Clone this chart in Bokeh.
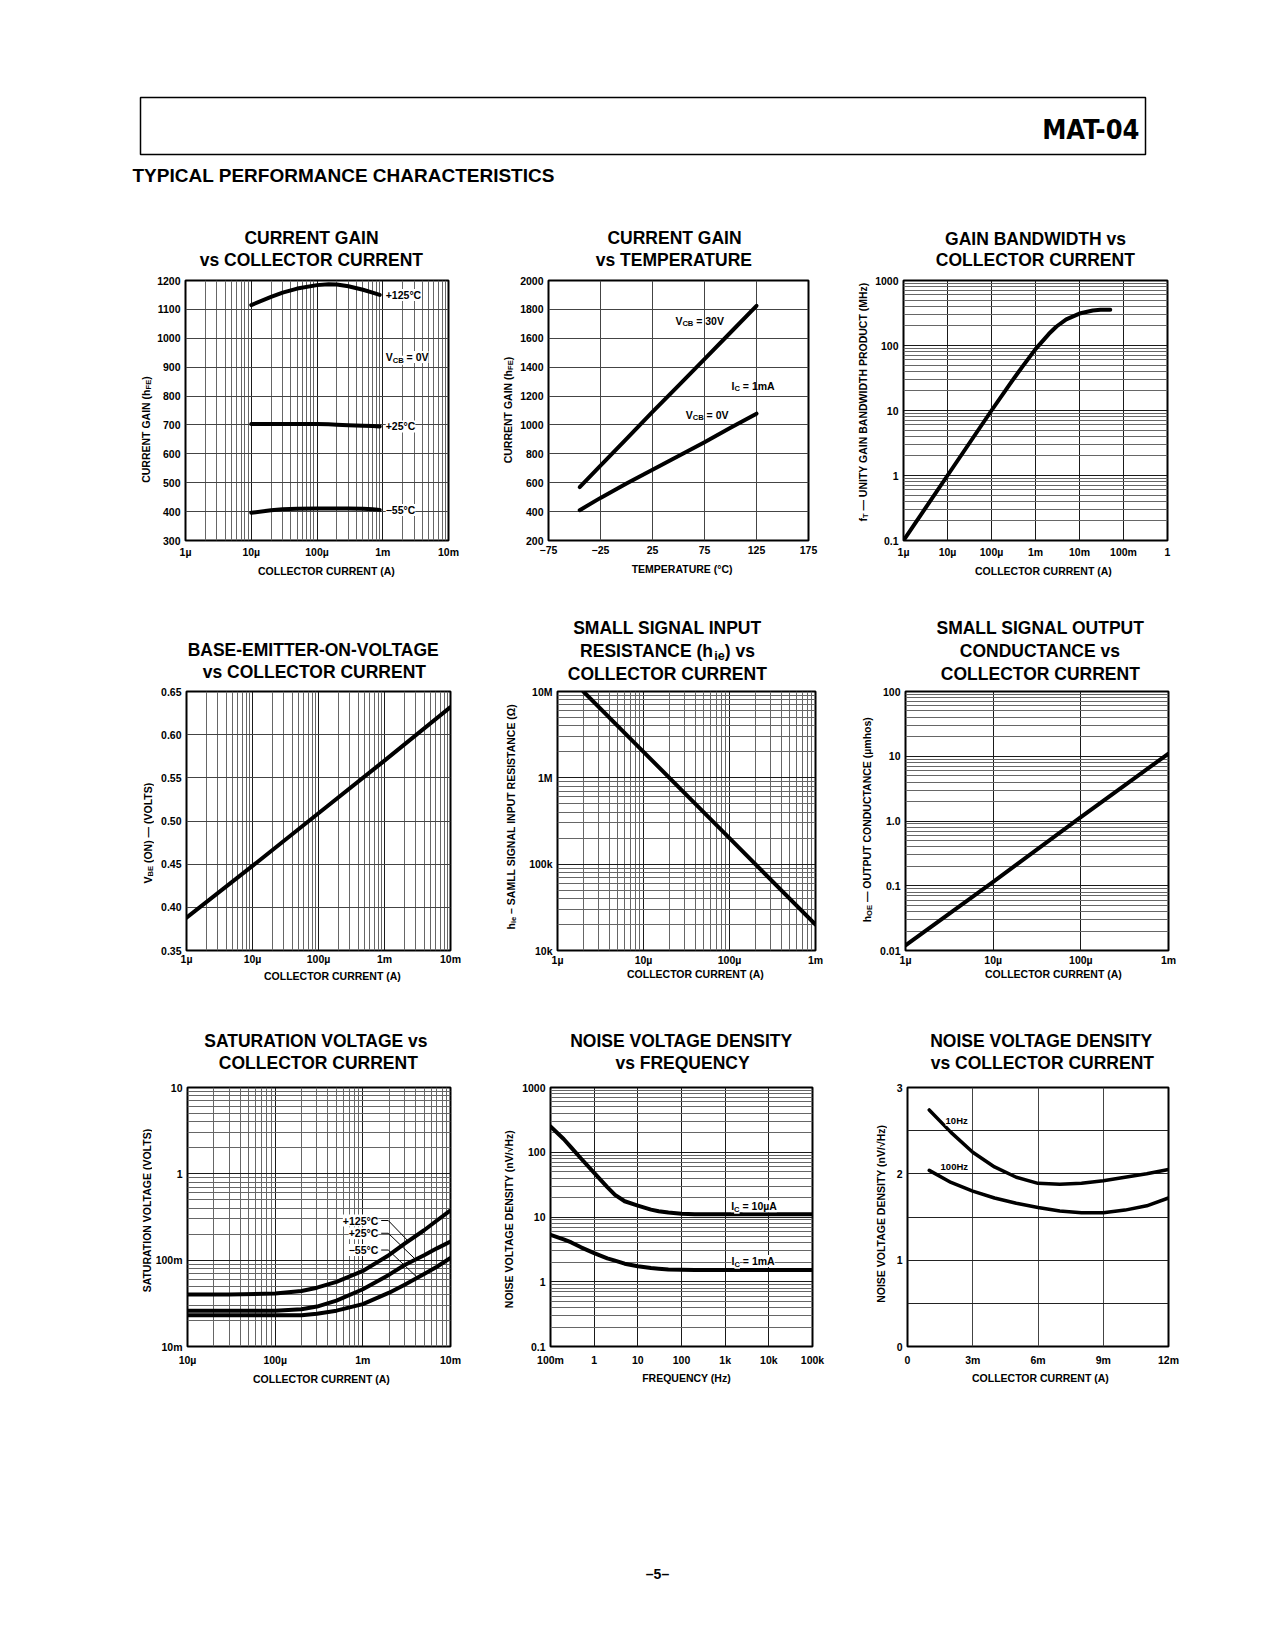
import numpy as np
from bokeh.plotting import figure
from bokeh.models import Range1d, FixedTicker, Label, CustomJSTickFormatter
from bokeh.layouts import column, row
from bokeh.embed import file_html
from bokeh.resources import INLINE

FONT = "Liberation Sans"
NARROW = "'Liberation Sans Narrow', 'Arial Narrow', 'DejaVu Sans Condensed', 'Liberation Sans', sans-serif"

# ------------------------------------------------------------------ data
# 1. current gain vs collector current
cg_ic = [10e-6, 20e-6, 30e-6, 50e-6, 100e-6, 150e-6, 200e-6, 300e-6, 500e-6, 700e-6, 900e-6]
cg_125 = [1115, 1143, 1158, 1172, 1184, 1187, 1186, 1180, 1168, 1158, 1150]
cg_25 = [703, 703, 703, 703, 703, 702, 701, 699, 697, 696, 695]
cg_m55 = [396, 405, 408, 410, 411, 411, 411, 411, 410, 408, 406]

# 2. current gain vs temperature
temp_c = [-45, -25, 0, 25, 50, 75, 100, 125]
gain_30v = [570, 718, 903, 1090, 1272, 1455, 1640, 1825]
gain_0v = [410, 495, 595, 690, 785, 880, 980, 1078]

# 3. gain bandwidth vs collector current
gbw_ic = [1e-6, 1e-5, 1e-4, 3e-4, 5e-4, 1e-3, 2e-3, 3e-3, 5e-3, 1e-2, 2e-2, 3e-2, 5e-2]
gbw_ft = [0.1, 1.0, 10, 29, 47, 88, 150, 196, 252, 310, 345, 355, 355]

# 4. base-emitter on voltage vs collector current
vbe_ic = [1e-6, 1e-5, 1e-4, 1e-3, 1e-2]
vbe_v = [0.388, 0.448, 0.509, 0.570, 0.632]

# 5. small signal input resistance
hie_ic = [2e-6, 1e-5, 1e-4, 1e-3]
hie_r = [1.0e7, 2.0e6, 2.0e5, 2.0e4]

# 6. small signal output conductance
hoe_ic = [1e-6, 1e-5, 1e-4, 1e-3]
hoe_g = [0.012, 0.115, 1.15, 11.0]

# 7. saturation voltage vs collector current
vs_ic = [10e-6, 30e-6, 100e-6, 200e-6, 300e-6, 500e-6, 1e-3, 2e-3, 3e-3, 5e-3, 7e-3, 10e-3]
vs_125 = [0.040, 0.040, 0.041, 0.044, 0.048, 0.056, 0.075, 0.115, 0.155, 0.222, 0.288, 0.377]
vs_25 = [0.026, 0.026, 0.026, 0.027, 0.029, 0.034, 0.046, 0.068, 0.088, 0.114, 0.137, 0.164]
vs_m55 = [0.023, 0.023, 0.023, 0.023, 0.024, 0.026, 0.031, 0.042, 0.052, 0.069, 0.084, 0.106]

# 8. noise voltage density vs frequency
nf_hz = [0.1, 0.2, 0.3, 0.5, 1, 2, 3, 5, 10, 20, 30, 50, 100, 200, 1000, 10000, 100000]
nf_10u = [250, 160, 118, 80, 48, 29, 22, 17.5, 15.0, 13.0, 12.3, 11.7, 11.2, 11.0, 11.0, 11.0, 11.0]
nf_1m = [5.3, 4.5, 4.05, 3.4, 2.77, 2.3, 2.12, 1.9, 1.74, 1.63, 1.59, 1.55, 1.53, 1.52, 1.52, 1.52, 1.52]

# 9. noise voltage density vs collector current
nc_ic = [1.0e-3, 2e-3, 3e-3, 4e-3, 5e-3, 6e-3, 7e-3, 8e-3, 9e-3, 10e-3, 11e-3, 12e-3]
nc_10hz = [2.74, 2.48, 2.25, 2.08, 1.96, 1.89, 1.88, 1.89, 1.92, 1.96, 2.00, 2.05]
nc_100hz = [2.04, 1.90, 1.80, 1.72, 1.66, 1.61, 1.57, 1.55, 1.55, 1.58, 1.63, 1.72]

# tick values / labels
t_1u_10m = [1e-6, 1e-5, 1e-4, 1e-3, 1e-2]
l_1u_10m = ["1µ", "10µ", "100µ", "1m", "10m"]
t_1u_1 = [1e-6, 1e-5, 1e-4, 1e-3, 1e-2, 1e-1, 1.0]
l_1u_1 = ["1µ", "10µ", "100µ", "1m", "10m", "100m", "1"]
t_1u_1m = [1e-6, 1e-5, 1e-4, 1e-3]
l_1u_1m = ["1µ", "10µ", "100µ", "1m"]
t_10u_10m = [1e-5, 1e-4, 1e-3, 1e-2]
l_10u_10m = ["10µ", "100µ", "1m", "10m"]
t_temp = [-75, -25, 25, 75, 125, 175]
l_temp = ["−75", "−25", "25", "75", "125", "175"]
t_freq = [0.1, 1, 10, 100, 1000, 10000, 100000]
l_freq = ["100m", "1", "10", "100", "1k", "10k", "100k"]
t_ic12 = [0, 3e-3, 6e-3, 9e-3, 12e-3]
l_ic12 = ["0", "3m", "6m", "9m", "12m"]
t_gain1 = list(range(300, 1201, 100))
l_gain1 = [str(v) for v in t_gain1]
t_gain2 = list(range(200, 2001, 200))
l_gain2 = [str(v) for v in t_gain2]
t_ft = [0.1, 1, 10, 100, 1000]
l_ft = ["0.1", "1", "10", "100", "1000"]
t_vbe = [0.35, 0.40, 0.45, 0.50, 0.55, 0.60, 0.65]
l_vbe = ["0.35", "0.40", "0.45", "0.50", "0.55", "0.60", "0.65"]
t_hie = [1e4, 1e5, 1e6, 1e7]
l_hie = ["10k", "100k", "1M", "10M"]
t_hoe = [0.01, 0.1, 1, 10, 100]
l_hoe = ["0.01", "0.1", "1.0", "10", "100"]
t_vs = [0.01, 0.1, 1, 10]
l_vs = ["10m", "100m", "1", "10"]
t_nv = [0.1, 1, 10, 100, 1000]
l_nv = ["0.1", "1", "10", "100", "1000"]
t_nc = [0, 1, 2, 3]
l_nc = ["0", "1", "2", "3"]

# ------------------------------------------------------------------ text helpers
AW = {' ': 278, '(': 333, ')': 333, '+': 584, ',': 278, '-': 333, '.': 278, '/': 278, '=': 584,
      '°': 400, 'µ': 611, 'Ω': 768, '√': 549, '—': 1000, '–': 556, '−': 584}
for ch in "0123456789":
    AW[ch] = 556
AW.update({'A': 722, 'B': 722, 'C': 722, 'D': 722, 'E': 667, 'F': 611, 'G': 778, 'H': 722, 'I': 278,
           'J': 556, 'K': 722, 'L': 611, 'M': 833, 'N': 722, 'O': 778, 'P': 667, 'Q': 778, 'R': 722,
           'S': 667, 'T': 611, 'U': 722, 'V': 667, 'W': 944, 'X': 667, 'Y': 667, 'Z': 611,
           'a': 556, 'b': 611, 'c': 556, 'd': 611, 'e': 556, 'f': 333, 'g': 611, 'h': 611, 'i': 278,
           'j': 278, 'k': 556, 'l': 278, 'm': 889, 'n': 611, 'o': 611, 'p': 611, 'q': 611, 'r': 389,
           's': 556, 't': 333, 'u': 611, 'v': 556, 'w': 778, 'x': 556, 'y': 556, 'z': 500})
SUBS = 0.72
TICK = "10.5px"


def text_w(s, fs):
    return sum(AW.get(ch, 600) for ch in s) * fs / 1000.0


def place(p, segs, x, y, dx, dy, fs, align="center", angle=0.0, bold=True, bg=None, font=FONT):
    """Lay out a run of text pieces (normal / subscript) centred vertically on (x, y)."""
    if isinstance(segs, str):
        segs = [(segs, False)]
    ws = [text_w(t, fs * (SUBS if s else 1.0)) for t, s in segs]
    W = sum(ws)
    cum = {"left": 0.0, "center": -W / 2.0, "right": -W}[align]
    for (t, s), w in zip(segs, ws):
        f = fs * (SUBS if s else 1.0)
        drop = 0.30 * fs if s else 0.0
        lead = len(t) - len(t.lstrip(" "))
        shift = text_w(" " * lead, f)
        txt = t.strip(" ")
        if angle == 0:
            xo, yo = dx + cum + shift, dy - drop
        else:
            xo, yo = dx + drop, dy + cum + shift
        p.add_layout(Label(x=x, y=y, x_offset=xo, y_offset=yo, text=txt, text_align="left",
                           text_baseline="middle", angle=angle, text_font=font,
                           text_font_size=f"{f:.1f}px", text_font_style="bold" if bold else "normal",
                           text_color="black", background_fill_color=bg))
        cum += w


def sub(*parts):
    return [(t, i % 2 == 1) for i, t in enumerate(parts)]


def minor_log(lo, hi):
    return [k * 10.0 ** e for e in range(lo, hi) for k in range(2, 10)]


# ------------------------------------------------------------------ page strips (page pixel coords)
PAGE_W = 1277
STRIPS = []


def strip(x0, x1, y0, y1):
    f = figure(width=x1 - x0, height=y1 - y0, x_range=Range1d(x0, x1), y_range=Range1d(y1, y0),
               x_axis_location=None, y_axis_location=None, min_border=0,
               output_backend="svg", toolbar_location=None, title=None)
    f.outline_line_color = None
    f.grid.visible = False
    f.background_fill_color = "white"
    f.border_fill_color = "white"
    STRIPS.append((x0, x1, y0, y1, f))
    return f


def page_text(segs, X, Y, fs, align="center", angle=0.0, bold=True, font=FONT):
    for x0, x1, y0, y1, f in STRIPS:
        if x0 <= X < x1 and y0 <= Y < y1:
            place(f, segs, X, Y, 0, 0, fs, align, angle, bold, None, font)
            return f
    raise ValueError((X, Y))


FMT = """
for (let i = 0; i < tk.length; i++) {
  const t = tk[i];
  if (tick === t || Math.abs(tick - t) <= 1e-9 * Math.abs(t)) return lb[i];
}
return "";
"""

MAJ = "#1a1a1a"
MIN = "#666666"


class Chart:
    def __init__(self, fig_box, frame, xr, yr, xlog, ylog, xt, xl, yt, yl,
                 xminor=(), yminor=(), xstand=5, xmaj=MAJ, xmin=MIN, ymaj=MAJ, ymin=MIN):
        fx0, fx1, fy0, fy1 = fig_box
        L, T, R, B = frame
        self.frame, self.xr, self.yr = frame, xr, yr
        p = figure(width=fx1 - fx0, height=fy1 - fy0, x_range=Range1d(*xr), y_range=Range1d(*yr),
                   x_axis_type="log" if xlog else "linear", y_axis_type="log" if ylog else "linear",
                   min_border_left=L - fx0, min_border_right=fx1 - R,
                   min_border_top=T - fy0, min_border_bottom=fy1 - B,
                   output_backend="svg", toolbar_location=None, title=None)
        p.outline_line_color = "black"
        p.outline_line_width = 2
        p.outline_line_alpha = 1.0
        p.background_fill_color = "white"
        p.border_fill_color = "white"
        xa, ya = p.xaxis[0], p.yaxis[0]
        xa.ticker = FixedTicker(ticks=xt, minor_ticks=list(xminor))
        ya.ticker = FixedTicker(ticks=yt, minor_ticks=list(yminor))
        xa.formatter = CustomJSTickFormatter(args=dict(tk=xt, lb=xl), code=FMT)
        ya.formatter = CustomJSTickFormatter(args=dict(tk=yt, lb=yl), code=FMT)
        for a in (xa, ya):
            a.axis_line_color = None
            a.major_tick_line_color = None
            a.minor_tick_line_color = None
            a.major_tick_out = 0
            a.major_tick_in = 0
            a.minor_tick_out = 0
            a.minor_tick_in = 0
            a.major_label_text_font = FONT
            a.major_label_text_font_style = "bold"
            a.major_label_text_font_size = TICK
            a.major_label_text_color = "black"
        xa.major_label_standoff = xstand
        ya.major_label_standoff = 5
        p.xgrid.grid_line_color = xmaj
        p.xgrid.minor_grid_line_color = xmin
        p.ygrid.grid_line_color = ymaj
        p.ygrid.minor_grid_line_color = ymin
        for g in (p.xgrid[0], p.ygrid[0]):
            g.grid_line_width = 1
            g.minor_grid_line_width = 1
            g.grid_line_alpha = 1.0
            g.minor_grid_line_alpha = 1.0
        self.p = p

    def curve(self, x, y, w=4):
        self.p.line(x, y, line_width=w, line_color="black", line_cap="round", line_join="round")


def titles(lines, X, Ys):
    for segs, Y in zip(lines, Ys):
        page_text(segs, X, Y, 17.5)


def xlabel(segs, X, Y):
    page_text(segs, X, Y, 10.5)


def ylabel(segs, X, Y):
    page_text(segs, X, Y, 10.5, angle=np.pi / 2)


LBL = 10.5

# vertical bands
S0 = (0, 269)
M1 = (269, 562)
S1 = (562, 682)
M2 = (682, 968)
S2 = (968, 1075)
M3 = (1075, 1370)
S3 = (1370, 1640)

s0 = strip(0, PAGE_W, *S0)
s1 = strip(0, PAGE_W, *S1)
s2 = strip(0, PAGE_W, *S2)
s3 = strip(0, PAGE_W, *S3)

# chart figure horizontal spans per row
R1X = [(153, 464), (516, 824), (871, 1183)]
R2X = [(154, 466), (523, 831), (875, 1184)]
R3X = [(152, 466), (516, 828), (887, 1184)]


def row_strips(xs, band):
    edges = [0] + [v for pair in xs for v in pair] + [PAGE_W]
    return [strip(edges[2 * i], edges[2 * i + 1], *band) for i in range(4)]


r1s = row_strips(R1X, M1)
r2s = row_strips(R2X, M2)
r3s = row_strips(R3X, M3)

# ------------------------------------------------------------------ chart 1
c1 = Chart(R1X[0] + M1, (185, 280, 448, 542), (1e-6, 1e-2), (300, 1200), True, False,
           t_1u_10m, l_1u_10m, t_gain1, l_gain1, xminor=minor_log(-6, -2), xstand=5, ymaj="#444")
c1.curve(cg_ic, cg_125)
c1.curve(cg_ic, cg_25)
c1.curve(cg_ic, cg_m55)
for val, txt in ((cg_125[-1], "+125°C"), (cg_25[-1], "+25°C"), (cg_m55[-1], "−55°C")):
    place(c1.p, txt, cg_ic[-1], val, 6, 0, LBL, "left", bg="white")
place(c1.p, sub("V", "CB", " = 0V"), cg_ic[-1], 935, 6, 0, LBL, "left", bg="white")
titles(["CURRENT GAIN", "vs COLLECTOR CURRENT"], 311, [237, 259])
xlabel("COLLECTOR CURRENT (A)", 326, 570)
ylabel(sub("CURRENT GAIN (h", "FE", ")"), 145, 437)

# ------------------------------------------------------------------ chart 2
c2 = Chart(R1X[1] + M1, (548, 280, 808, 540), (-75, 175), (200, 2000), False, False,
           t_temp, l_temp, t_gain2, l_gain2, xstand=5, xmaj="#444", ymaj="#444")
c2.curve(temp_c, gain_30v)
c2.curve(temp_c, gain_0v)
place(c2.p, sub("V", "CB", " = 30V"), 47, 1723, 0, 0, LBL, "left")
place(c2.p, sub("I", "C", " = 1mA"), 101, 1273, 0, 0, LBL, "left")
place(c2.p, sub("V", "CB", " = 0V"), 57, 1072, 0, 0, LBL, "left")
titles(["CURRENT GAIN", "vs TEMPERATURE"], 674, [237, 259])
xlabel("TEMPERATURE (°C)", 682, 568)
ylabel(sub("CURRENT GAIN (h", "FE", ")"), 507, 415)

# ------------------------------------------------------------------ chart 3
c3 = Chart(R1X[2] + M1, (903, 277, 1167, 542), (1e-6, 1.0), (0.1, 1000), True, True,
           t_1u_1, l_1u_1, t_ft, l_ft, yminor=minor_log(-1, 3), xstand=5)
c3.curve(gbw_ic, gbw_ft)
titles(["GAIN BANDWIDTH vs", "COLLECTOR CURRENT"], 1035, [238, 259])
xlabel("COLLECTOR CURRENT (A)", 1043, 570)
ylabel(sub("f", "T", " — UNITY GAIN BANDWIDTH PRODUCT (MHz)"), 862, 406)

# ------------------------------------------------------------------ chart 4
c4 = Chart(R2X[0] + M2, (186, 691, 450, 953), (1e-6, 1e-2), (0.35, 0.65), True, False,
           t_1u_10m, l_1u_10m, t_vbe, l_vbe, xminor=minor_log(-6, -2), xstand=2, ymaj="#444")
c4.curve(vbe_ic, vbe_v)
titles(["BASE-EMITTER-ON-VOLTAGE", "vs COLLECTOR CURRENT"], 314, [649, 671])
xlabel("COLLECTOR CURRENT (A)", 332, 975)
ylabel(sub("V", "BE", " (ON) — (VOLTS)"), 147, 838)

# ------------------------------------------------------------------ chart 5
c5 = Chart(R2X[1] + M2, (557, 690, 815, 950), (1e-6, 1e-3), (1e4, 1e7), True, True,
           t_1u_1m, l_1u_1m, t_hie, l_hie, xminor=minor_log(-6, -3), yminor=minor_log(4, 7), xstand=3)
c5.curve(hie_ic, hie_r)
titles(["SMALL SIGNAL INPUT", sub("RESISTANCE (h", "ie", ") vs"), "COLLECTOR CURRENT"],
       667, [627, 650, 673])
xlabel("COLLECTOR CURRENT (A)", 695, 973)
ylabel(sub("h", "ie", " – SAMLL SIGNAL INPUT RESISTANCE (Ω)"), 510, 820)

# ------------------------------------------------------------------ chart 6
c6 = Chart(R2X[2] + M2, (905, 690, 1168, 952), (1e-6, 1e-3), (0.01, 100), True, True,
           t_1u_1m, l_1u_1m, t_hoe, l_hoe, yminor=minor_log(-2, 2), xstand=3)
c6.curve(hoe_ic, hoe_g)
titles(["SMALL SIGNAL OUTPUT", "CONDUCTANCE vs", "COLLECTOR CURRENT"], 1040, [627, 650, 673])
xlabel("COLLECTOR CURRENT (A)", 1053, 973)
ylabel(sub("h", "OE", " — OUTPUT CONDUCTANCE (µmhos)"), 866, 823)

# ------------------------------------------------------------------ chart 7
c7 = Chart(R3X[0] + M3, (187, 1085, 450, 1348), (1e-5, 1e-2), (0.01, 10), True, True,
           t_10u_10m, l_10u_10m, t_vs, l_vs, xminor=minor_log(-5, -2), yminor=minor_log(-2, 1), xstand=7)
c7.curve(vs_ic, vs_125)
c7.curve(vs_ic, vs_25)
c7.curve(vs_ic, vs_m55)
lx = np.log10(vs_ic)
for txt, ly, ser, xe in (("+125°C", 0.288, vs_125, 3.3e-3), ("+25°C", 0.205, vs_25, 4.0e-3),
                         ("−55°C", 0.131, vs_m55, 4.2e-3)):
    place(c7.p, txt, 1.5e-3, ly, 0, 0, LBL, "right", bg="white")
    ye = 10 ** np.interp(np.log10(xe), lx, np.log10(ser))
    c7.p.line([1.62e-3, 1.95e-3, xe], [ly, ly, ye], line_width=1, line_color="black")
titles(["SATURATION VOLTAGE vs", "COLLECTOR CURRENT"], 318, [1040, 1062])
xlabel("COLLECTOR CURRENT (A)", 321, 1378)
ylabel("SATURATION VOLTAGE (VOLTS)", 146, 1213)

# ------------------------------------------------------------------ chart 8
c8 = Chart(R3X[1] + M3, (550, 1083, 812, 1347), (0.1, 1e5), (0.1, 1000), True, True,
           t_freq, l_freq, t_nv, l_nv, yminor=minor_log(-1, 3), xstand=7)
c8.curve(nf_hz, nf_10u)
c8.curve(nf_hz, nf_1m)
place(c8.p, sub("I", "C", " = 10µA"), 1374, 14.7, 0, 0, LBL, "left", bg="white")
place(c8.p, sub("I", "C", " = 1mA"), 1400, 2.09, 0, 0, LBL, "left", bg="white")
titles(["NOISE VOLTAGE DENSITY", "vs FREQUENCY"], 682, [1040, 1062])
xlabel("FREQUENCY (Hz)", 686, 1377)
ylabel("NOISE VOLTAGE DENSITY (nV/√Hz)", 508, 1224)

# ------------------------------------------------------------------ chart 9
c9 = Chart(R3X[2] + M3, (907, 1087, 1168, 1346), (0, 12e-3), (0, 3), False, False,
           t_ic12, l_ic12, t_nc, l_nc, yminor=[0.5, 1.5, 2.5], xstand=7,
           xmaj="#444", ymaj="#222", ymin="#222")
c9.curve(nc_ic, nc_10hz, 3.5)
c9.curve(nc_ic, nc_100hz, 3.5)
place(c9.p, "10Hz", 1.75e-3, 2.62, 0, 0, 9.5, "left", bg="white")
place(c9.p, "100Hz", 1.52e-3, 2.085, 0, 0, 9.5, "left", bg="white")
titles(["NOISE VOLTAGE DENSITY", "vs COLLECTOR CURRENT"], 1042, [1040, 1062])
xlabel("COLLECTOR CURRENT (A)", 1040, 1377)
ylabel("NOISE VOLTAGE DENSITY (nV/√Hz)", 880, 1218)

# ------------------------------------------------------------------ header / footer
s0.quad(left=[140], right=[1145], top=[97], bottom=[154], fill_color=None,
        line_color="black", line_width=1.5)
s0.add_layout(Label(x=1139, y=129, text="MAT-04", text_align="right", text_baseline="middle",
                    text_font=NARROW, text_font_size="27px", text_font_style="bold", text_color="black"))
s0.add_layout(Label(x=132, y=175, text="TYPICAL PERFORMANCE CHARACTERISTICS", text_align="left",
                    text_baseline="middle", text_font=FONT, text_font_size="19px",
                    text_font_style="bold", text_color="black"))
s3.add_layout(Label(x=657, y=1573, text="–5–", text_align="center", text_baseline="middle",
                    text_font=FONT, text_font_size="14px", text_font_style="bold", text_color="black"))

m1 = row(r1s[0], c1.p, r1s[1], c2.p, r1s[2], c3.p, r1s[3])
m2 = row(r2s[0], c4.p, r2s[1], c5.p, r2s[2], c6.p, r2s[3])
m3 = row(r3s[0], c7.p, r3s[1], c8.p, r3s[2], c9.p, r3s[3])
layout = column(s0, m1, s1, m2, s2, m3, s3)
open("out.html", "w").write(file_html(layout, INLINE, title="MAT-04"))
